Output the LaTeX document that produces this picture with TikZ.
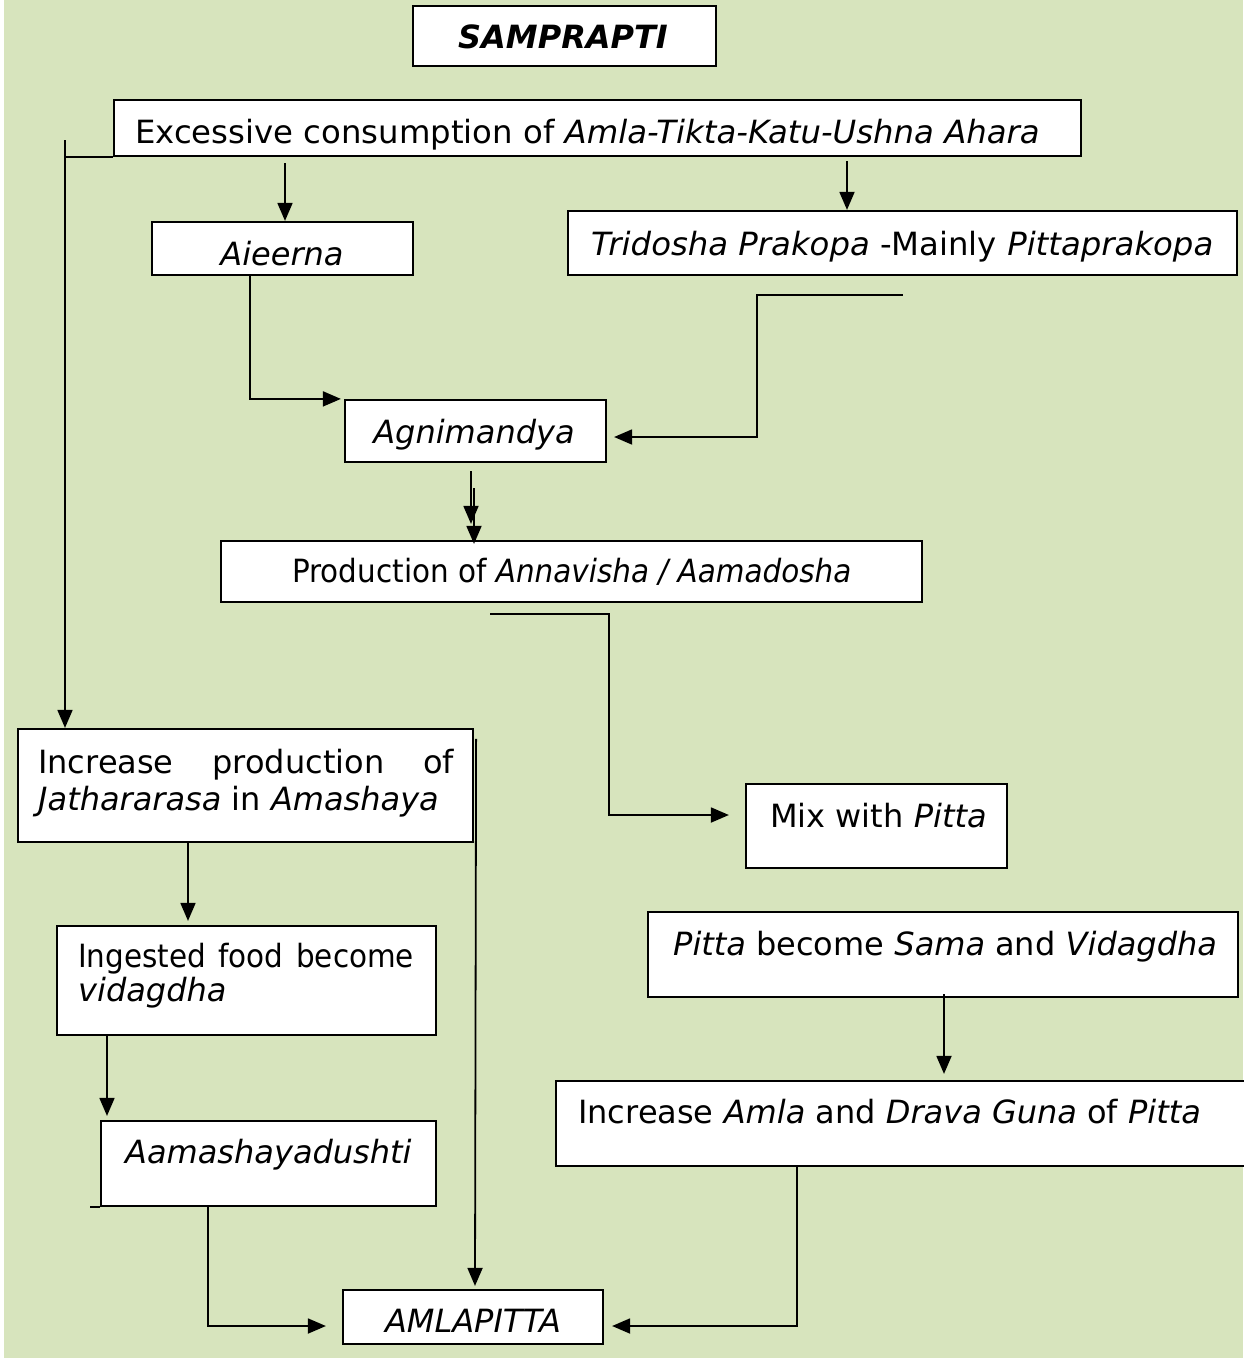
\documentclass[tikz,border=0pt]{standalone}
\usepackage{fontspec}
\setmainfont{DejaVu Sans}[ItalicFont={DejaVu Sans Oblique},BoldFont={DejaVu Sans Bold},BoldItalicFont={DejaVu Sans Bold Oblique}]
\usetikzlibrary{arrows.meta,calc}
\definecolor{bg}{RGB}{215,228,189}
\begin{document}
\begin{tikzpicture}[x=1pt,y=-1pt,
  box/.style={draw=black,fill=white,line width=2.2pt,inner sep=0pt},
  txt/.style={inner sep=0pt,font=\fontsize{32}{38}\selectfont},
  ln/.style={line width=1.8pt},
  arr/.style={ln,-{Triangle[length=18pt,width=15pt]}}]
\useasboundingbox (0,0) rectangle (1243,1363);
\fill[white] (0,0) rectangle (1243,1363);
\fill[bg] (4,0) rectangle (1243,1358);
% boxes
\node[box,minimum width=303pt,minimum height=60pt] (title) at (564.5,36) {};
\node[box,minimum width=967pt,minimum height=56pt] (exc) at (597.5,128) {};
\node[box,minimum width=261pt,minimum height=53pt] (aje) at (282.5,248.5) {};
\node[box,minimum width=669pt,minimum height=64pt] (tri) at (902.5,243) {};
\node[box,minimum width=261pt,minimum height=62pt] (agni) at (475.5,431) {};
\node[box,minimum width=701pt,minimum height=61pt] (prod) at (571.5,571.5) {};
\node[box,minimum width=455pt,minimum height=113pt] (jath) at (245.5,785.5) {};
\node[box,minimum width=261pt,minimum height=84pt] (mix) at (876.5,826) {};
\node[box,minimum width=379pt,minimum height=109pt] (ing) at (246.5,980.5) {};
\node[box,minimum width=590pt,minimum height=85pt] (sama) at (943,954.5) {};
\node[box,minimum width=335pt,minimum height=85pt] (aama) at (268.5,1163.5) {};
\node[box,minimum width=694pt,minimum height=85pt] (drava) at (903,1123.5) {};
\node[box,minimum width=260pt,minimum height=54pt] (aml) at (473,1317) {};
% texts
\node[txt,anchor=base] (title-t) at (563,48) {\textbf{\textit{SAMPRAPTI}}};
\node[txt,anchor=base west] (exc-t) at (135,143) {\scalebox{1.01}[1]{Excessive consumption of \textit{Amla-Tikta-Katu-Ushna Ahara}}};
\node[txt,anchor=base] (aje-t) at (282,265) {\textit{Aieerna}};
\node[txt,anchor=base west] (tri-t) at (591,255) {\scalebox{1.01}[1]{\textit{Tridosha Prakopa} -Mainly \textit{Pittaprakopa}}};
\node[txt,anchor=base] (agni-t) at (474,443) {\textit{Agnimandya}};
\node[txt,anchor=base west] (prod-t) at (292,582) {\scalebox{0.92}[1]{Production of \textit{Annavisha / Aamadosha}}};
\node[txt,anchor=base west] (jath-t1) at (38,773) {\makebox[416pt][s]{Increase production of}};
\node[txt,anchor=base west] (jath-t2) at (38,810) {\textit{Jathararasa} in \textit{Amashaya}};
\node[txt,anchor=base west] (mix-t) at (770,827) {Mix with \textit{Pitta}};
\node[txt,anchor=base west] (ing-t1) at (78,967) {\scalebox{0.92}[1]{\makebox[365pt][s]{Ingested food become}}};
\node[txt,anchor=base west] (ing-t2) at (78,1001) {\textit{vidagdha}};
\node[txt,anchor=base west] (sama-t) at (673,955) {\textit{Pitta} become \textit{Sama} and \textit{Vidagdha}};
\node[txt,anchor=base west] (aama-t) at (125,1163) {\textit{Aamashayadushti}};
\node[txt,anchor=base west] (drava-t) at (578,1123) {Increase \textit{Amla} and \textit{Drava Guna} of \textit{Pitta}};
\node[txt,anchor=base] (aml-t) at (473,1332) {\textit{AMLAPITTA}};
% connectors
\coordinate (lb) at (65,140);
\draw[ln] (exc.south west) -- (exc.south west -| lb);
\draw[arr] (lb) -- (lb |- jath.north);
\draw[arr] ($(aje.north |- exc.south)+(2.5,6)$) -- ($(aje.north)+(2.5,0)$);
\draw[arr] ($(tri.north |- exc.south)+(-55.5,4)$) -- ($(tri.north)+(-55.5,0)$);
\draw[arr] ($(aje.south)+(-32.5,0)$) |- ($(agni.north west)+(-3,0)$);
\draw[arr] ($(tri.south)+(0,19)$) -- ++(-145.5,0) |- ($(agni.east)+(7,6)$);
\draw[arr] ($(agni.south)+(-4.5,8)$) -- ($(prod.north)+(-100.5,-16)$);
\draw[arr] ($(agni.south)+(-1.5,25)$) -- ($(prod.north)+(-97.5,4)$);
\draw[arr] ($(prod.south)+(-81.5,11)$) -- ++(119,0) |- ($(mix.west)+(-16,-11)$);
\draw[arr] ($(jath.north east)+(2,11)$) -- ($(aml.north)+(2,-3)$);
\draw[arr] ($(jath.south)+(-57.5,0)$) -- ($(ing.north)+(-58.5,-4)$);
\draw[arr] ($(ing.south)+(-139.5,0)$) -- ($(aama.north)+(-161.5,-4)$);
\draw[ln] (aama.south west) -- ++(-10,0);
\draw[arr] ($(aama.south)+(-60.5,0)$) |- ($(aml.west)+(-16,9)$);
\draw[arr] ($(sama.south)+(1,-4)$) -- ($(drava.north)+(41,-6)$);
\draw[arr] ($(drava.south)+(-106,0)$) |- ($(aml.east)+(8,9)$);
\end{tikzpicture}
\end{document}
